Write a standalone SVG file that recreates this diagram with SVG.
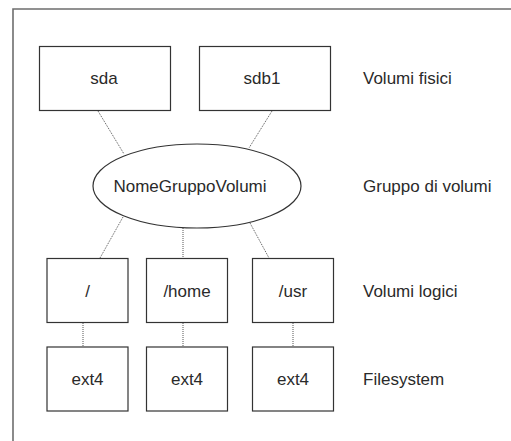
<svg xmlns="http://www.w3.org/2000/svg" width="511" height="441" viewBox="0 0 511 441">
  <style>
    .box { fill: #ffffff; stroke: #333333; stroke-width: 1.2; }
    .frame { fill: none; stroke: #6e6e6e; stroke-width: 1.6; }
    .link { fill: none; stroke: #555555; stroke-width: 1; stroke-dasharray: 1 1; }
    text { font-family: "Liberation Sans", Arial, sans-serif; font-size: 17px; fill: #2a2a2a; }
    .c { text-anchor: middle; }
  </style>
  <rect width="511" height="441" fill="#ffffff"/>
  <!-- outer frame (top and left edges) -->
  <polyline class="frame" points="13,441 13,9 511,9"/>

  <g id="connectors">
    <line class="link" x1="98" y1="111" x2="124" y2="154"/>
    <line class="link" x1="272" y1="111" x2="249" y2="148"/>
    <line class="link" x1="123" y1="217" x2="100" y2="258"/>
    <line class="link" x1="183" y1="228" x2="183" y2="258"/>
    <line class="link" x1="250" y1="223" x2="269" y2="258"/>
    <line class="link" x1="83" y1="323" x2="83" y2="347"/>
    <line class="link" x1="183" y1="323" x2="183" y2="347"/>
    <line class="link" x1="293" y1="323" x2="293" y2="347"/>
  </g>

  <g id="sda">
    <rect class="box" x="39.5" y="46.5" width="131" height="64"/>
    <text class="c" x="104" y="84">sda</text>
  </g>
  <g id="sdb1">
    <rect class="box" x="199.5" y="46.5" width="131" height="64"/>
    <text class="c" x="262" y="84">sdb1</text>
  </g>
  <g id="vg">
    <ellipse class="box" cx="197" cy="186" rx="104" ry="42"/>
    <text class="c" x="190" y="192">NomeGruppoVolumi</text>
  </g>
  <g id="lv-root">
    <rect class="box" x="47" y="258.5" width="81" height="64"/>
    <text class="c" x="87.5" y="297">/</text>
  </g>
  <g id="lv-home">
    <rect class="box" x="146.5" y="258.5" width="81" height="64"/>
    <text class="c" x="187" y="297">/home</text>
  </g>
  <g id="lv-usr">
    <rect class="box" x="252.5" y="258.5" width="81" height="64"/>
    <text class="c" x="293" y="297">/usr</text>
  </g>
  <g id="fs-root">
    <rect class="box" x="47" y="347" width="81" height="64"/>
    <text class="c" x="87.5" y="385">ext4</text>
  </g>
  <g id="fs-home">
    <rect class="box" x="146.5" y="347" width="81" height="64"/>
    <text class="c" x="187" y="385">ext4</text>
  </g>
  <g id="fs-usr">
    <rect class="box" x="252.5" y="347" width="81" height="64"/>
    <text class="c" x="293" y="385">ext4</text>
  </g>

  <g id="labels">
    <text x="363" y="84">Volumi fisici</text>
    <text x="363" y="192">Gruppo di volumi</text>
    <text x="363" y="297">Volumi logici</text>
    <text x="363" y="385">Filesystem</text>
  </g>
</svg>
